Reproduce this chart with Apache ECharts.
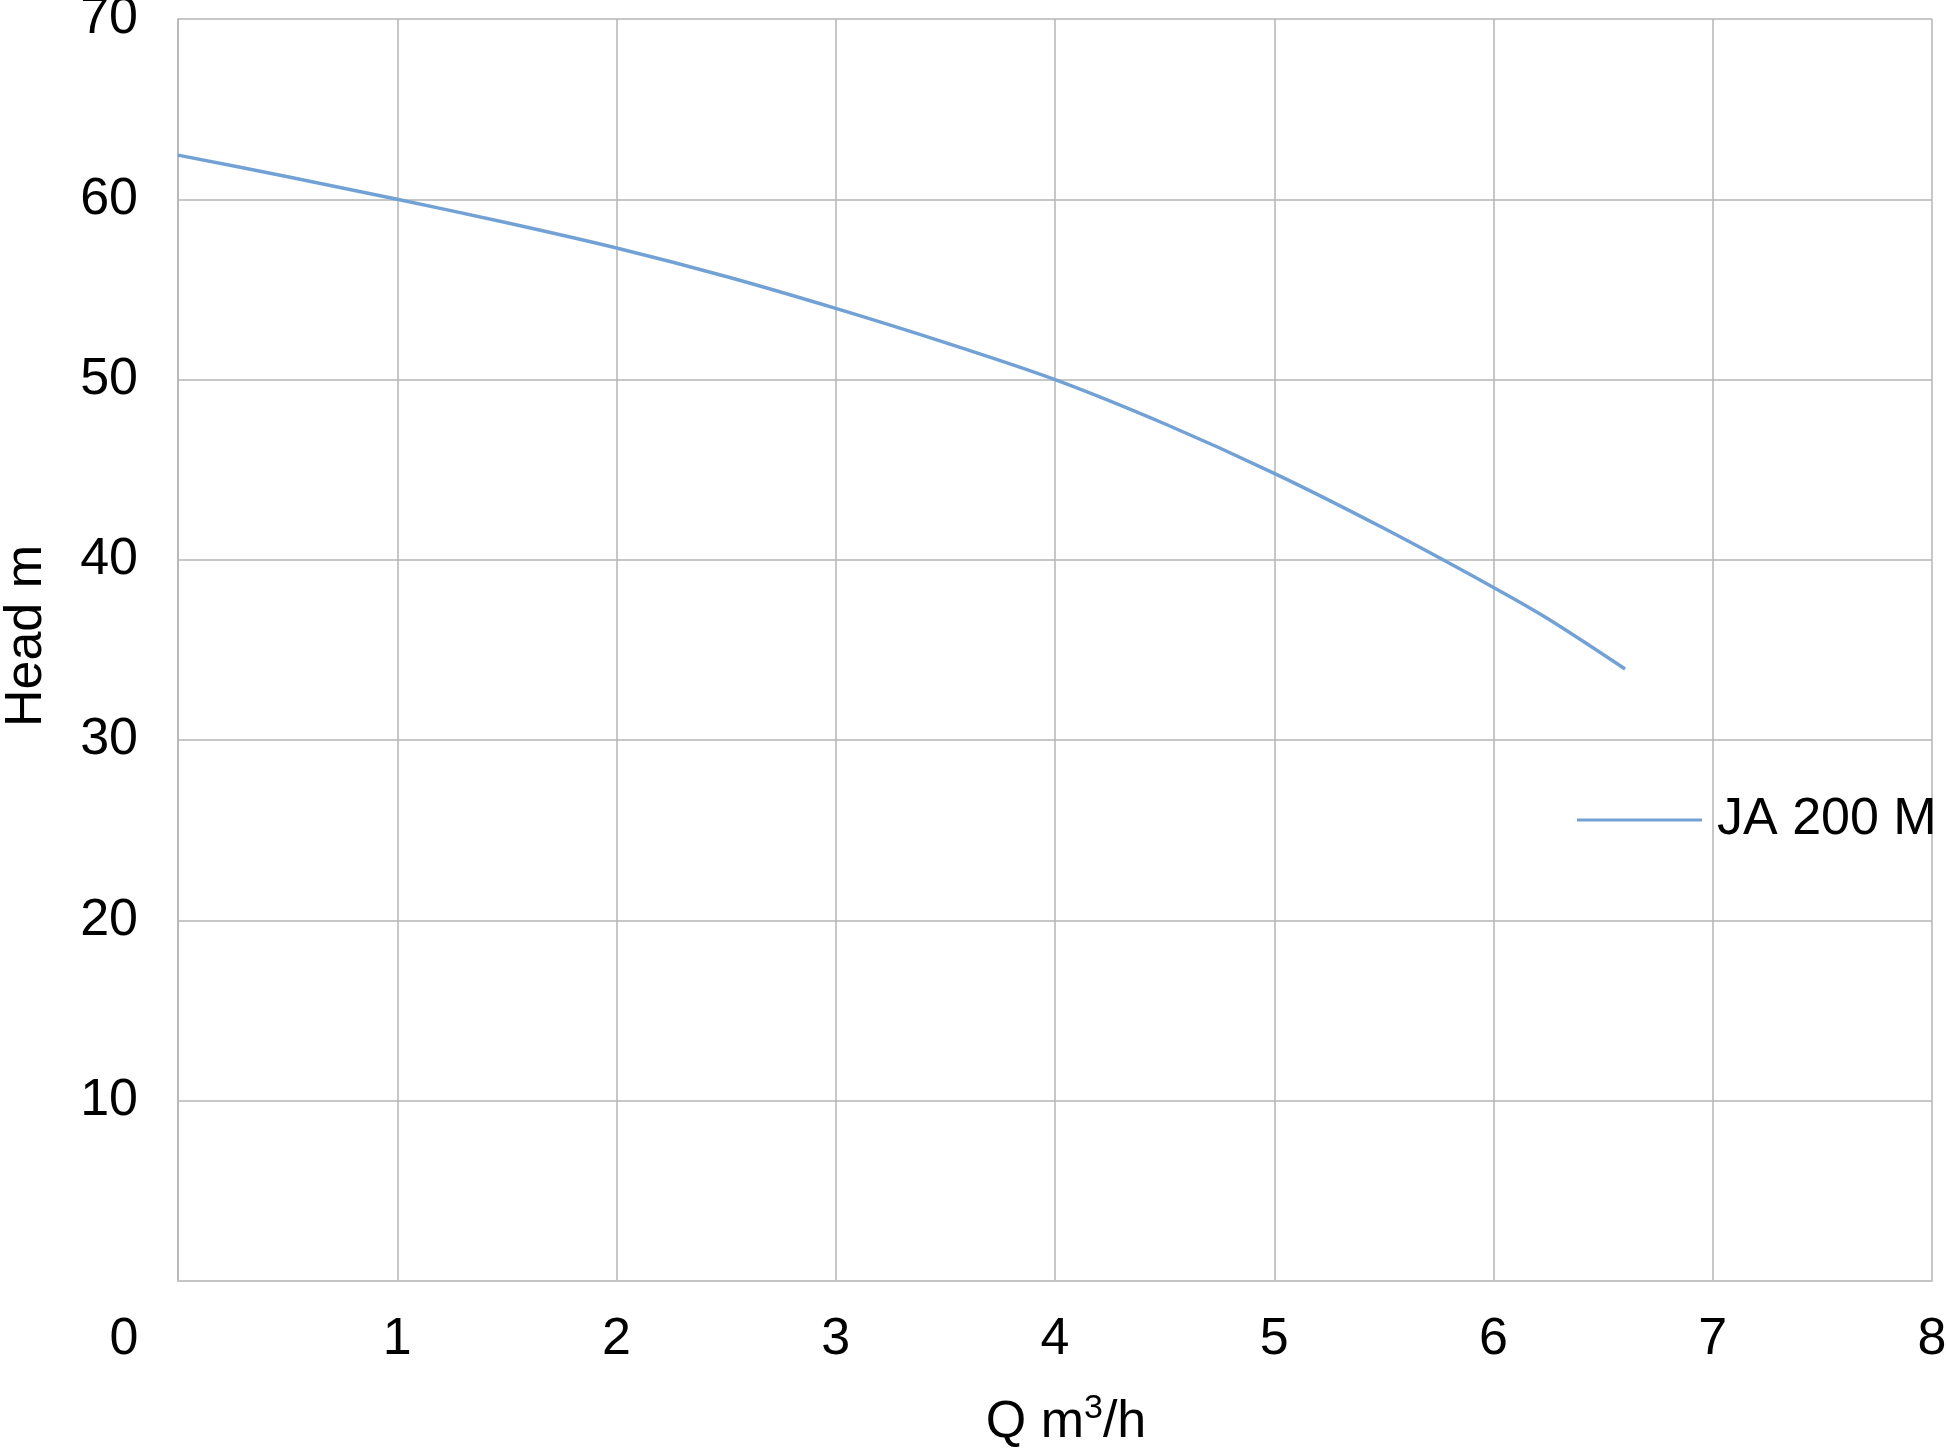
<!DOCTYPE html>
<html>
<head>
<meta charset="utf-8">
<script src="https://cdn.jsdelivr.net/npm/echarts@6/dist/echarts.min.js"></script>
<style>
html,body{margin:0;padding:0;background:#fff;}
#chart{width:1946px;height:1448px;}
</style>
</head>
<body>
<div id="chart"></div>
<script>
const flowQ = [0, 0.5, 1, 1.5, 2, 2.5, 3, 3.5, 4, 4.5, 5, 5.5, 6, 6.25, 6.6];
const headM = [62.45, 61.25, 60.0, 58.7, 57.3, 55.72, 53.95, 52.05, 50.0, 47.55, 44.8, 41.75, 38.47, 36.72, 33.95];
const seriesName = 'JA 200 M';
const xTicks = [0, 1, 2, 3, 4, 5, 6, 7, 8];
const yTicks = [0, 10, 20, 30, 40, 50, 60, 70];

const FONT = '"Liberation Sans Narrow", "Liberation Sans", Arial, sans-serif';
const FS = 52;
const chart = echarts.init(document.getElementById('chart'));
const gridColor = '#b4b4b4';
const lineColor = '#72a1d5';

chart.setOption({
  backgroundColor: '#ffffff',
  animation: false,
  grid: { left: 178, top: 19, right: 14, bottom: 167, containLabel: false, outerBoundsMode: 'none' },
  legend: {
    left: 1572, top: 789,
    itemWidth: 125, itemHeight: 3,
    icon: 'rect',
    data: [seriesName],
    itemStyle: { color: lineColor },
    textStyle: { fontFamily: FONT, fontSize: FS, color: '#000', padding: [0, 0, 0, 10] }
  },
  xAxis: {
    type: 'value', min: xTicks[0], max: xTicks[xTicks.length - 1], interval: 1,
    name: '{a|Q m}{s|3}{a|/h}',
    nameLocation: 'middle', nameGap: 114,
    nameTextStyle: {
      rich: {
        a: { fontFamily: FONT, fontSize: FS, color: '#000', lineHeight: 56 },
        s: { fontFamily: FONT, fontSize: 34, color: '#000', lineHeight: 56, padding: [0, 0, 28, 0] }
      },
      padding: [0, 0, 0, 22]
    },
    axisLine: { show: true, lineStyle: { color: '#c4c4c4', width: 2 } },
    axisTick: { show: false },
    splitLine: { show: true, lineStyle: { color: gridColor, width: 1.5 } },
    axisLabel: {
      margin: 33,
      fontFamily: FONT, fontSize: FS, color: '#000',
      formatter: function (v) { return v === 0 ? '{z|0}' : String(v); },
      rich: { z: { fontFamily: FONT, fontSize: FS, color: '#000', padding: [0, 108, 0, 0] } }
    }
  },
  yAxis: {
    type: 'value', min: yTicks[0], max: yTicks[yTicks.length - 1], interval: 10,
    name: 'Head m',
    nameLocation: 'middle', nameGap: 125,
    nameRotate: 90,
    nameTextStyle: { fontFamily: FONT, fontSize: FS, color: '#000', padding: [0, 0, 0, 28] },
    axisLine: { show: true, lineStyle: { color: gridColor, width: 1.5 } },
    axisTick: { show: false },
    splitLine: { show: true, lineStyle: { color: gridColor, width: 1.5 } },
    axisLabel: {
      margin: 40,
      fontFamily: FONT, fontSize: FS, color: '#000',
      formatter: function (v) { return v === 0 ? '' : String(v); }
    }
  },
  series: [{
    name: seriesName,
    type: 'line',
    data: flowQ.map((q, i) => [q, headM[i]]),
    smooth: 0.3,
    symbol: 'none',
    lineStyle: { color: lineColor, width: 3.5 },
    itemStyle: { color: lineColor }
  }]
});
</script>
</body>
</html>
